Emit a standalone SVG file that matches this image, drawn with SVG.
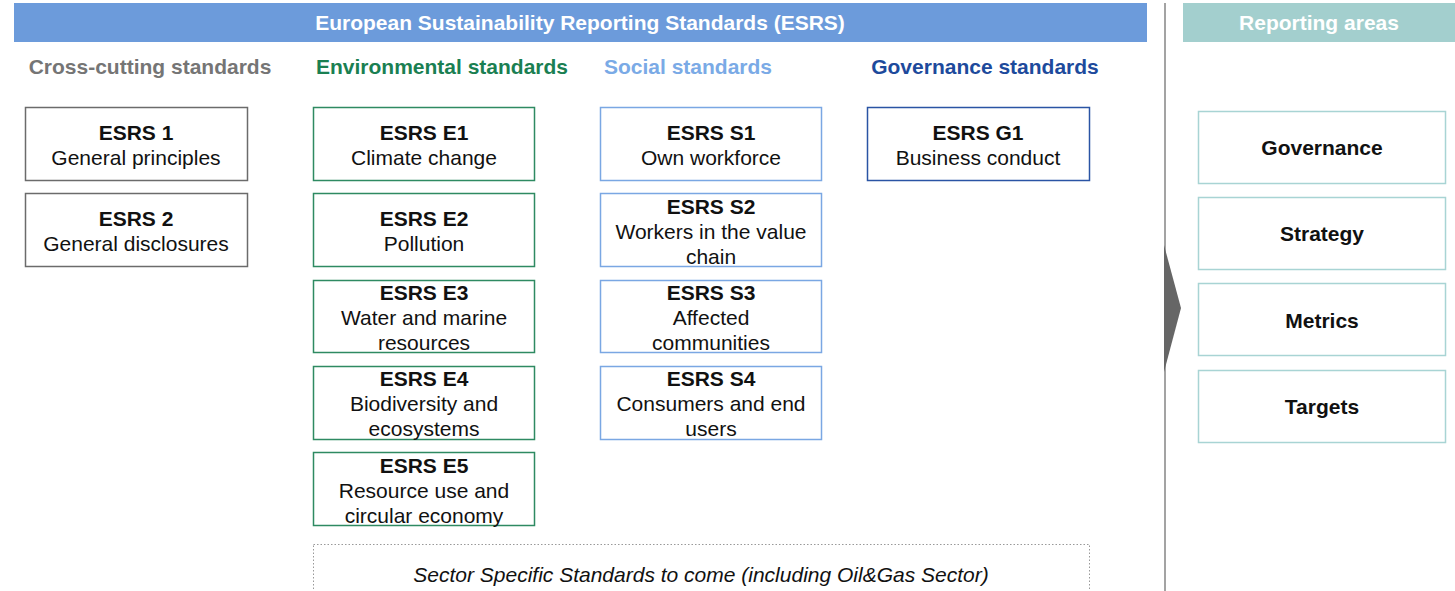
<svg xmlns="http://www.w3.org/2000/svg" width="1455" height="591" viewBox="0 0 1455 591">
<style>
text{font-family:"Liberation Sans",Arial,sans-serif;text-anchor:middle;fill:#111}
.b{font-weight:bold}
.t{font-size:21px}
.hd{font-size:21px;font-weight:bold}
.box{fill:#fff;stroke-width:1.5}
.cc{stroke:#6b6b6b}
.env{stroke:#2e8a62}
.soc{stroke:#7aa7e3}
.gov{stroke:#2a54a4}
.rep{stroke:#a8d4d4}
</style>
<rect width="1455" height="591" fill="#fff"/>
<g id="header">
<rect x="14" y="3" width="1133" height="39" fill="#6c9bdb"/>
<text x="580" y="30" class="hd" style="fill:#fff">European Sustainability Reporting Standards (ESRS)</text>
<rect x="1183" y="3" width="272" height="39" fill="#a3cfce"/>
<text x="1319" y="30" class="hd" style="fill:#fff">Reporting areas</text>
</g>
<g id="column-headers">
<text x="150" y="74" class="hd" style="fill:#757575">Cross-cutting standards</text>
<text x="442" y="74" class="hd" style="fill:#1a7f52">Environmental standards</text>
<text x="688" y="74" class="hd" style="fill:#7aaae6">Social standards</text>
<text x="985" y="74" class="hd" style="fill:#1d4a9c">Governance standards</text>
</g>
<g id="divider">
<line x1="1165" y1="3" x2="1165" y2="591" stroke="#a3a3a3" stroke-width="2"/>
<polygon points="1164,245 1181,308 1164,372" fill="#666"/>
</g>
<g id="esrs1"><rect class="box cc" x="25.5" y="107.5" width="222" height="73"/><text class="t b" x="136" y="140">ESRS 1</text><text class="t" x="136" y="165">General principles</text></g>
<g id="esrs2"><rect class="box cc" x="25.5" y="193.5" width="222" height="73"/><text class="t b" x="136" y="226">ESRS 2</text><text class="t" x="136" y="251">General disclosures</text></g>
<g id="e1"><rect class="box env" x="313.5" y="107.5" width="221" height="73"/><text class="t b" x="424" y="140">ESRS E1</text><text class="t" x="424" y="165">Climate change</text></g>
<g id="e2"><rect class="box env" x="313.5" y="193.5" width="221" height="73"/><text class="t b" x="424" y="226">ESRS E2</text><text class="t" x="424" y="251">Pollution</text></g>
<g id="e3"><rect class="box env" x="313.5" y="280.5" width="221" height="72"/><text class="t b" x="424" y="300">ESRS E3</text><text class="t" x="424" y="325">Water and marine</text><text class="t" x="424" y="350">resources</text></g>
<g id="e4"><rect class="box env" x="313.5" y="366.5" width="221" height="73"/><text class="t b" x="424" y="386">ESRS E4</text><text class="t" x="424" y="411">Biodiversity and</text><text class="t" x="424" y="436">ecosystems</text></g>
<g id="e5"><rect class="box env" x="313.5" y="452.5" width="221" height="73"/><text class="t b" x="424" y="473">ESRS E5</text><text class="t" x="424" y="498">Resource use and</text><text class="t" x="424" y="523">circular economy</text></g>
<g id="s1"><rect class="box soc" x="600.5" y="107.5" width="221" height="73"/><text class="t b" x="711" y="140">ESRS S1</text><text class="t" x="711" y="165">Own workforce</text></g>
<g id="s2"><rect class="box soc" x="600.5" y="193.5" width="221" height="73"/><text class="t b" x="711" y="214">ESRS S2</text><text class="t" x="711" y="239">Workers in the value</text><text class="t" x="711" y="264">chain</text></g>
<g id="s3"><rect class="box soc" x="600.5" y="280.5" width="221" height="72"/><text class="t b" x="711" y="300">ESRS S3</text><text class="t" x="711" y="325">Affected</text><text class="t" x="711" y="350">communities</text></g>
<g id="s4"><rect class="box soc" x="600.5" y="366.5" width="221" height="73"/><text class="t b" x="711" y="386">ESRS S4</text><text class="t" x="711" y="411">Consumers and end</text><text class="t" x="711" y="436">users</text></g>
<g id="g1"><rect class="box gov" x="867.5" y="107.5" width="222" height="73"/><text class="t b" x="978" y="140">ESRS G1</text><text class="t" x="978" y="165">Business conduct</text></g>
<g id="sector"><rect x="313.5" y="544.5" width="776" height="60" fill="none" stroke="#999" stroke-width="1" stroke-dasharray="1.5,2"/><text x="701" y="582" style="font-size:21px;font-style:italic">Sector Specific Standards to come (including Oil&amp;Gas Sector)</text></g>
<g id="r-governance"><rect class="box rep" x="1198.5" y="111.5" width="247" height="72"/><text class="t b" x="1322" y="155">Governance</text></g>
<g id="r-strategy"><rect class="box rep" x="1198.5" y="197.5" width="247" height="72"/><text class="t b" x="1322" y="241">Strategy</text></g>
<g id="r-metrics"><rect class="box rep" x="1198.5" y="283.5" width="247" height="72"/><text class="t b" x="1322" y="328">Metrics</text></g>
<g id="r-targets"><rect class="box rep" x="1198.5" y="370.5" width="247" height="72"/><text class="t b" x="1322" y="414">Targets</text></g>
<g id="connectors"></g>
</svg>
